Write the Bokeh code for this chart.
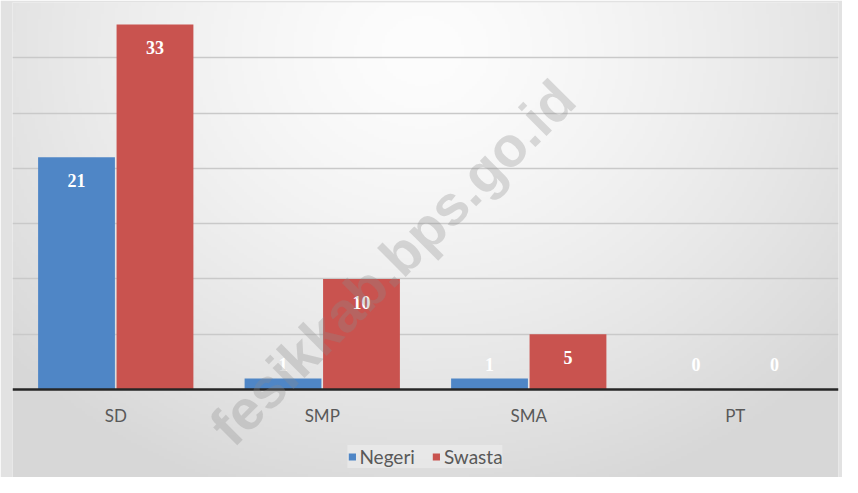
import numpy as np
from bokeh.plotting import figure
from bokeh.models import FactorRange, Range1d, Span, FixedTicker, ColumnDataSource, Label
from bokeh.transform import dodge
from bokeh.core.properties import value
from bokeh.embed import file_html
from bokeh.resources import INLINE

categories = ["SD", "SMP", "SMA", "PT"]
negeri = [21, 1, 1, 0]
swasta = [33, 10, 5, 0]
grid_ticks = [5, 10, 15, 20, 25, 30, 35]
series_names = ["Negeri", "Swasta"]

BLUE = "#4f86c6"
RED = "#c9534f"

y_range = Range1d(-7.95, 35)
p = figure(x_range=FactorRange(*categories, range_padding=0),
           y_range=y_range,
           width=842, height=477, output_backend="svg", toolbar_location=None,
           min_border_left=12, min_border_right=4, min_border_top=2, min_border_bottom=0)
p.xaxis.visible = False
p.yaxis.visible = False
p.outline_line_color = None
p.background_fill_color = "#ececec"
p.border_fill_color = "#e2e2e2"
p.xgrid.visible = False
p.ygrid.ticker = FixedTicker(ticks=grid_ticks)
p.ygrid.grid_line_color = "#c9c9c9"
p.ygrid.grid_line_width = 1.3

# radial background shading (decoration, spans the whole frame)
nx, ny = 300, 180
u = np.linspace(0, 1, nx)[None, :]
v = np.linspace(0, 1, ny)[:, None]
d = np.sqrt(((u - 0.496) / 0.67) ** 2 + ((v - 0.9) / 1.0) ** 2)
g = (253 - 38 * np.clip(d, 0, 1) ** 1.4).astype(np.uint32)
img = (255 << 24) | (g << 16) | (g << 8) | g
p.image_rgba(image=[img.astype(np.uint32)], x=0, y=y_range.start, dw=len(categories),
             dh=y_range.end - y_range.start, level="image")

def lab_y(vals):
    return [max(v - 2.1, 2.25) for v in vals]

src = ColumnDataSource(dict(
    cat=categories, negeri=negeri, swasta=swasta,
    neg_lab=[str(v) for v in negeri], swa_lab=[str(v) for v in swasta],
    neg_y=lab_y(negeri), swa_y=lab_y(swasta),
    cat_y=[-2.3] * len(categories),
))

off = 0.19
w = 0.372
p.vbar(x=dodge("cat", -off, range=p.x_range), top="negeri", width=w, source=src,
       fill_color=BLUE, line_color=None, legend_label=series_names[0])
p.vbar(x=dodge("cat", off, range=p.x_range), top="swasta", width=w, source=src,
       fill_color=RED, line_color=None, legend_label=series_names[1])

p.add_layout(Span(location=0, dimension="width", line_color="#262626", line_width=2.5))

common = dict(text_align="center", text_baseline="middle", text_color="white",
              text_font=value("Liberation Serif"), text_font_style="bold", text_font_size="18px")
p.text(x=dodge("cat", -off, range=p.x_range), y="neg_y", text="neg_lab", source=src, **common)
p.text(x=dodge("cat", off, range=p.x_range), y="swa_y", text="swa_lab", source=src, **common)

p.text(x="cat", y="cat_y", text="cat", source=src, text_align="center", text_baseline="middle",
       text_color="#595959", text_font=value("Lato"), text_font_size="17px")

p.legend.location = "bottom_center"
p.legend.orientation = "horizontal"
p.legend.label_text_font = "Lato"
p.legend.label_text_font_size = "19px"
p.legend.label_text_color = "#595959"
p.legend.glyph_width = 9
p.legend.glyph_height = 9
p.legend.background_fill_color = "#eeeeee"
p.legend.background_fill_alpha = 0.6
p.legend.border_line_color = None
p.legend.margin = 9
p.legend.padding = 6
p.legend.spacing = 17
p.legend.label_standoff = 3

p.add_layout(Label(x=1.84, y=11.5, text="fesikkab.bps.go.id", angle=45, angle_units="deg",
                   text_align="center", text_baseline="middle", text_font="Liberation Sans",
                   text_font_size="56px", text_font_style="bold", text_color="#8a8a8a",
                   text_alpha=0.3))

open("out.html", "w").write(file_html(p, INLINE))
